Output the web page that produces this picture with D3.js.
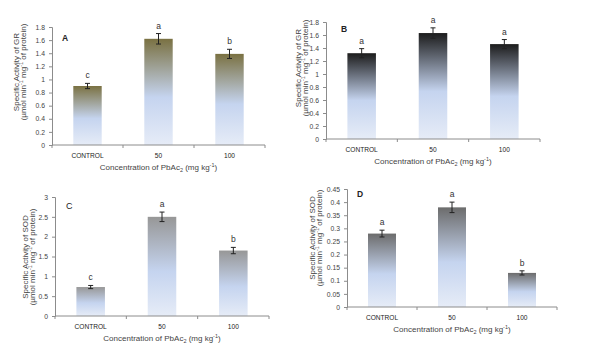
<!DOCTYPE html>
<html><head><meta charset="utf-8">
<script src="https://cdn.jsdelivr.net/npm/d3@7"></script>
<style>body{margin:0;background:#fff;} svg{display:block;font-family:"Liberation Sans",Arial,sans-serif;}</style>
</head><body>
<script>
const categories = ["CONTROL", "50", "100"];

const grAValues = [0.9, 1.62, 1.39];
const grAErrors = [0.04, 0.08, 0.07];
const grALetters = ["c", "a", "b"];
const grATicks = ["0","0.2","0.4","0.6","0.8","1","1.2","1.4","1.6","1.8"];

const grBValues = [1.32, 1.63, 1.46];
const grBErrors = [0.07, 0.08, 0.07];
const grBLetters = ["a", "a", "a"];
const grBTicks = ["0","0.2","0.4","0.6","0.8","1","1.2","1.4","1.6","1.8"];

const sodCValues = [0.73, 2.5, 1.65];
const sodCErrors = [0.04, 0.12, 0.08];
const sodCLetters = ["c", "a", "b"];
const sodCTicks = ["0","0.5","1","1.5","2","2.5","3"];

const sodDValues = [0.28, 0.38, 0.13];
const sodDErrors = [0.013, 0.02, 0.008];
const sodDLetters = ["a", "a", "b"];
const sodDTicks = ["0","0.05","0.1","0.15","0.2","0.25","0.3","0.35","0.4","0.45"];

const W = 593, H = 359;
const svg = d3.select("body").append("svg").attr("width", W).attr("height", H);
const defs = svg.append("defs");

const panels = [
  {id:"A", title:"Specific Activity of GR", values:grAValues, errors:grAErrors, letters:grALetters, ticks:grATicks,
   x0:52, x1:265, yTop:27, yBot:145, top:"#7a7142", t1x:15.5, t2x:23, tcy:72, lx:62, ly:38, bold:true},
  {id:"B", title:"Specific Activity of GR", values:grBValues, errors:grBErrors, letters:grBLetters, ticks:grBTicks,
   x0:326, x1:540, yTop:22, yBot:139, top:"#1c1c1c", t1x:297.5, t2x:304.5, tcy:68, lx:341, ly:29, bold:true},
  {id:"C", title:"Specific Activity of SOD", values:sodCValues, errors:sodCErrors, letters:sodCLetters, ticks:sodCTicks,
   x0:55, x1:269, yTop:197, yBot:316, top:"#979797", t1x:25, t2x:32, tcy:257, lx:66, ly:206, bold:false},
  {id:"D", title:"Specific Activity of SOD", values:sodDValues, errors:sodDErrors, letters:sodDLetters, ticks:sodDTicks,
   x0:347, x1:557, yTop:189, yBot:307, top:"#6c6c6c", t1x:311.5, t2x:318.5, tcy:238, lx:357, ly:194, bold:true}
];

const axisCol = "#8c8c8c";
const textCol = "#444";

panels.forEach(p => {
  const grad = defs.append("linearGradient").attr("id","g"+p.id)
    .attr("x1",0).attr("y1",0).attr("x2",0).attr("y2",1);
  grad.append("stop").attr("offset","0%").attr("stop-color",p.top);
  grad.append("stop").attr("offset","55%").attr("stop-color","#c5d4ef");
  grad.append("stop").attr("offset","100%").attr("stop-color","#e6ecf7");

  const ymax = +p.ticks[p.ticks.length-1];
  const y = d3.scaleLinear().domain([0, ymax]).range([p.yBot, p.yTop]);
  const x = d3.scaleBand().domain(categories).range([p.x0, p.x1]).padding(0);
  const bw = x.bandwidth()*0.4;
  const g = svg.append("g");

  // bars
  g.selectAll("rect.bar").data(p.values).join("rect")
    .attr("x",(d,i)=>x(categories[i])+x.bandwidth()/2-bw/2)
    .attr("y",d=>y(d)).attr("width",bw).attr("height",d=>p.yBot-y(d))
    .attr("fill","url(#g"+p.id+")");

  // y axis
  const yAxis = d3.axisLeft(y).tickValues(p.ticks.map(Number)).tickFormat((d,i)=>p.ticks[i]).tickSize(3).tickPadding(4);
  const ya = g.append("g").attr("transform",`translate(${p.x0},0)`).call(yAxis);
  ya.select(".domain").attr("stroke",axisCol);
  ya.selectAll(".tick line").attr("stroke",axisCol);
  ya.selectAll("text").attr("font-size",6.8).attr("fill",textCol).attr("font-family","Liberation Sans, Arial, sans-serif");

  // x axis
  g.append("line").attr("x1",p.x0).attr("x2",p.x1).attr("y1",p.yBot).attr("y2",p.yBot).attr("stroke",axisCol);
  const bounds = categories.map(c=>x(c)).concat([p.x1]);
  g.selectAll("line.xt").data(bounds).join("line")
    .attr("x1",d=>d).attr("x2",d=>d).attr("y1",p.yBot).attr("y2",p.yBot+3).attr("stroke",axisCol);
  g.selectAll("text.xl").data(categories).join("text")
    .attr("x",d=>x(d)+x.bandwidth()/2).attr("y",p.yBot+12.5)
    .attr("text-anchor","middle").attr("font-size",6.6).attr("fill","#222")
    .text(d=>d);

  // x title
  const xt = g.append("text").attr("x",(p.x0+p.x1)/2).attr("y",p.yBot+24.5)
    .attr("text-anchor","middle").attr("font-size",8).attr("fill",textCol);
  xt.append("tspan").text("Concentration  of PbAc");
  xt.append("tspan").attr("font-size",5.5).attr("dy",2).text("2");
  xt.append("tspan").attr("dy",-2).text(" (mg kg");
  xt.append("tspan").attr("font-size",5.5).attr("dy",-3).text("-1");
  xt.append("tspan").attr("dy",3).text(")");

  // y title
  g.append("text").attr("transform",`translate(${p.t1x+3},${p.tcy}) rotate(-90)`)
    .attr("text-anchor","middle").attr("font-size",8).attr("fill",textCol).text(p.title);
  const yt2 = g.append("text").attr("transform",`translate(${p.t2x+3},${p.tcy}) rotate(-90)`)
    .attr("text-anchor","middle").attr("font-size",8).attr("fill",textCol);
  yt2.append("tspan").text("(µmol min");
  yt2.append("tspan").attr("font-size",5.5).attr("dy",-3).text("-1");
  yt2.append("tspan").attr("dy",3).text(" mg");
  yt2.append("tspan").attr("font-size",5.5).attr("dy",-3).text("-1");
  yt2.append("tspan").attr("dy",3).text(" of protein)");

  // error bars
  const cx = (i)=>x(categories[i])+x.bandwidth()/2;
  p.values.forEach((v,i)=>{
    const e = p.errors[i];
    g.append("line").attr("x1",cx(i)).attr("x2",cx(i)).attr("y1",y(v+e)).attr("y2",y(v-e)).attr("stroke","#222").attr("stroke-width",1);
    [v+e, v-e].forEach(t=>{
      g.append("line").attr("x1",cx(i)-2.5).attr("x2",cx(i)+2.5).attr("y1",y(t)).attr("y2",y(t)).attr("stroke","#222").attr("stroke-width",1);
    });
    g.append("text").attr("x",cx(i)).attr("y",y(v+e)-5).attr("text-anchor","middle")
      .attr("font-size",8.5).attr("fill","#333").text(p.letters[i]);
  });

  // panel letter
  g.append("text").attr("x",p.lx).attr("y",p.ly+3).attr("font-size",p.bold?8.5:9)
    .attr("font-weight",p.bold?"bold":"normal").attr("fill","#222").text(p.id);
});
</script>
</body></html>
